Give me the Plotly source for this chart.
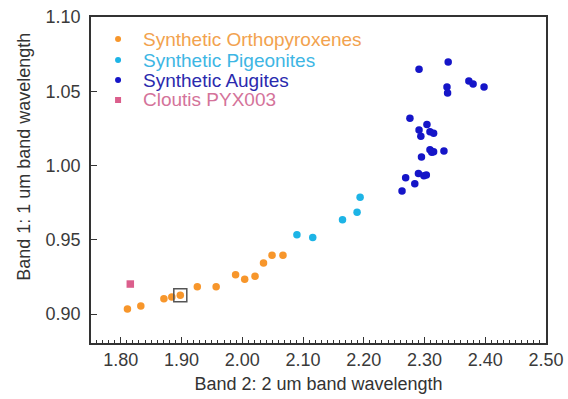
import plotly.graph_objects as go

# Band 2 (x) and Band 1 (y) wavelengths
opx_x = [1.811, 1.833, 1.871, 1.884, 1.898, 1.926, 1.957, 1.989, 2.004, 2.021, 2.035, 2.049, 2.067]
opx_y = [0.9034, 0.9054, 0.9103, 0.9114, 0.9126, 0.9184, 0.9184, 0.9265, 0.9234, 0.9254, 0.9343, 0.9395, 0.9395]

pig_x = [2.090, 2.116, 2.165, 2.189, 2.194]
pig_y = [0.9534, 0.9516, 0.9635, 0.9685, 0.9786]

aug_x = [2.339, 2.291, 2.337, 2.338, 2.373, 2.380, 2.398, 2.276, 2.304, 2.291, 2.309, 2.315,
         2.294, 2.309, 2.315, 2.332, 2.295, 2.312, 2.290, 2.303, 2.299, 2.269, 2.284, 2.263]
aug_y = [1.0697, 1.0648, 1.0529, 1.0488, 1.0569, 1.0549, 1.0529, 1.0318, 1.0277, 1.0239, 1.0228, 1.0217,
         1.0197, 1.0106, 1.0093, 1.0098, 1.0057, 1.0089, 0.9947, 0.9936, 0.9931, 0.9918, 0.9877, 0.9828]

cloutis_x = [1.8157]
cloutis_y = [0.9202]

highlight_index = 4  # orthopyroxene sample marked with a box

series_names = ["Synthetic Orthopyroxenes", "Synthetic Pigeonites", "Synthetic Augites", "Cloutis PYX003"]

x_ticks = [1.80, 1.90, 2.00, 2.10, 2.20, 2.30, 2.40, 2.50]
y_ticks = [0.90, 0.95, 1.00, 1.05, 1.10]

FONT = "Liberation Sans, Arial, sans-serif"
marker_colors = ["#F7962B", "#1DB4E6", "#1515C8", "#DB5E8C"]
text_colors = ["#F2A24E", "#3DB6E4", "#2A2AAE", "#D4739A"]
symbols = ["circle", "circle", "circle", "square"]

fig = go.Figure()
all_x = [opx_x, pig_x, aug_x, cloutis_x]
all_y = [opx_y, pig_y, aug_y, cloutis_y]
for xs, ys, nm, mc, sym in zip(all_x, all_y, series_names, marker_colors, symbols):
    fig.add_trace(go.Scatter(x=xs, y=ys, mode="markers",
                             marker=dict(color=mc, size=7.5, symbol=sym), name=nm,
                             showlegend=False))

fig.add_trace(go.Scatter(x=[opx_x[highlight_index]], y=[opx_y[highlight_index]], mode="markers",
                         marker=dict(symbol="square-open", size=13, color="#555555",
                                     line=dict(width=1.5, color="#555555")),
                         showlegend=False, hoverinfo="skip"))

# Manual legend (in paper coordinates of the plot area)
L, T, W, H = 91, 17, 454, 326
def px2paper(px, py):
    return (px - L) / W, (T + H - py) / H

row_y = [39, 60, 80, 100]
shapes = []
annotations = []
for i, (nm, mc, tc, sym) in enumerate(zip(series_names, marker_colors, text_colors, symbols)):
    mx, my = px2paper(118, row_y[i])
    tx, ty = px2paper(141, row_y[i])
    shapes.append(dict(type="circle" if sym == "circle" else "rect",
                       xref="paper", yref="paper", xsizemode="pixel", ysizemode="pixel",
                       xanchor=mx, yanchor=my, x0=-3, x1=3, y0=-3, y1=3,
                       fillcolor=mc, line=dict(width=0)))
    annotations.append(dict(xref="paper", yref="paper", x=tx, y=ty, xanchor="left", yanchor="middle",
                            text=nm, showarrow=False, font=dict(family=FONT, size=19, color=tc)))

# y-axis title placed as rotated annotation (offset upward as in the reference)
ytx, yty = px2paper(24, 157)
annotations.append(dict(xref="paper", yref="paper", x=ytx, y=yty, xanchor="center", yanchor="middle",
                        text="Band 1: 1 um band wavelength", textangle=-90, showarrow=False,
                        font=dict(family=FONT, size=18, color="#333333")))

axis_common = dict(
    showline=True, linecolor="#333333", linewidth=1.5, mirror=True,
    ticks="inside", tickcolor="#333333", tickwidth=1.2, ticklen=6,
    showgrid=False, zeroline=False,
    tickfont=dict(family=FONT, size=18, color="#3a3a3a"),
    title_font=dict(family=FONT, size=18, color="#333333"),
)

fig.update_xaxes(**axis_common, range=[1.751, 2.50], tickvals=x_ticks,
                 ticktext=[f"{v:.2f}" for v in x_ticks],
                 minor=dict(dtick=0.01, ticks="inside", ticklen=3, tickcolor="#333333", tickwidth=1, showgrid=False),
                 title_text="Band 2: 2 um band wavelength", title_standoff=8)
fig.update_yaxes(**axis_common, range=[0.8805, 1.10], tickvals=y_ticks,
                 ticktext=[f"{v:.2f}" for v in y_ticks],
                 ticklabelstandoff=5)

fig.update_layout(
    width=568, height=399,
    margin=dict(l=91, r=22, t=17, b=56, autoexpand=False),
    paper_bgcolor="white", plot_bgcolor="white",
    showlegend=False,
    shapes=shapes, annotations=annotations,
    font=dict(family=FONT),
)

fig.write_html("out.html")
